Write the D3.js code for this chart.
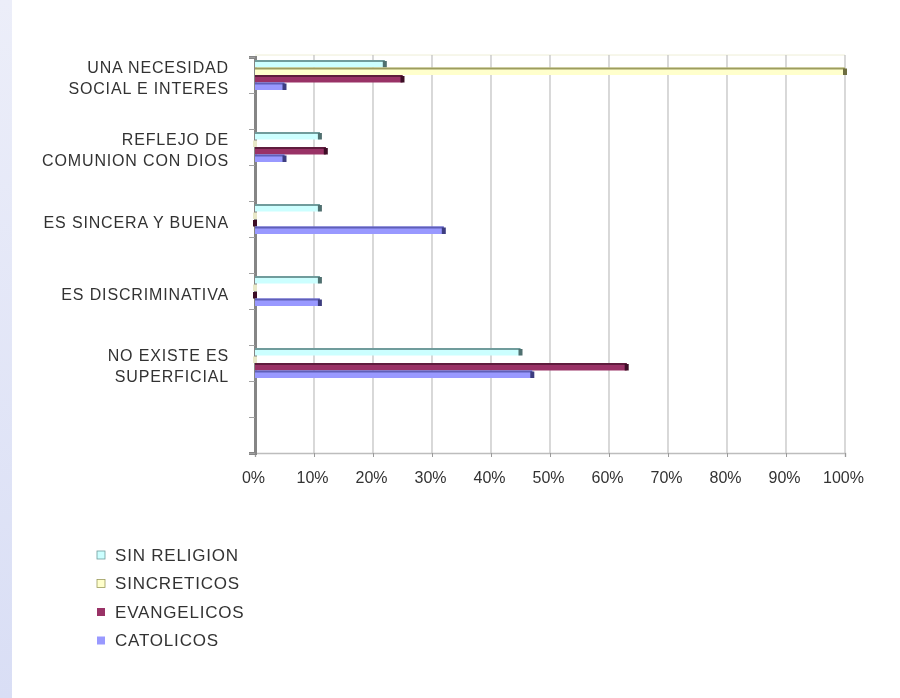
<!DOCTYPE html>
<html>
<head>
<meta charset="utf-8">
<script src="https://cdn.jsdelivr.net/npm/d3@7"></script>
<style>
  html, body { margin: 0; padding: 0; background: #ffffff; }
  svg { display: block; }
  text { font-family: "Liberation Sans", Arial, sans-serif; fill: #333; }
</style>
</head>
<body>
<svg id="chart" width="900" height="698"></svg>
<script>
// ---------- data ----------
const categories = [
  ["UNA NECESIDAD", "SOCIAL E INTERES"],
  ["REFLEJO DE", "COMUNION CON DIOS"],
  ["ES SINCERA Y BUENA"],
  ["ES DISCRIMINATIVA"],
  ["NO EXISTE ES", "SUPERFICIAL"]
];
const seriesNames = ["SIN RELIGION", "SINCRETICOS", "EVANGELICOS", "CATOLICOS"];
const sinReligion = [22, 11, 11, 11, 45];
const sincreticos = [100, 0, 0, 0, 0];
const evangelicos = [25, 12, 0, 0, 63];
const catolicos   = [5, 5, 32, 11, 47];
const xTickValues = [0, 10, 20, 30, 40, 50, 60, 70, 80, 90, 100];

// ---------- styles ----------
const fills  = ["#ccffff", "#ffffcc", "#993366", "#9999ff"];
const tops   = ["#6f9c9c", "#9c9c5e", "#5e1a3c", "#5f5fb8"];
const caps   = ["#4f6f6f", "#6e6e40", "#3d1026", "#3e3e80"];

const seriesValues = [sinReligion, sincreticos, evangelicos, catolicos];

const svg = d3.select("#chart");
const defs = svg.append("defs");
const lg = defs.append("linearGradient").attr("id", "strip").attr("x1", 0).attr("y1", 0).attr("x2", 0).attr("y2", 1);
lg.append("stop").attr("offset", "0%").attr("stop-color", "#eceef9");
lg.append("stop").attr("offset", "100%").attr("stop-color", "#d9def5");
defs.append("filter").attr("id", "soft").append("feGaussianBlur").attr("stdDeviation", 0.45);

// left lavender strip
svg.append("rect").attr("x", 0).attr("y", 0).attr("width", 12).attr("height", 698).attr("fill", "url(#strip)");

const root = svg.append("g").attr("filter", "url(#soft)");

// ---------- scales ----------
const plotTop = 57, plotBottom = 453;
const x = d3.scaleLinear().domain([0, 100]).range([255, 845]);
const slots = d3.range(11);
const y = d3.scaleBand().domain(slots).range([plotTop, plotBottom]).padding(0);
const slotOf = i => 2 * i;
const ySub = d3.scaleBand().domain(seriesNames).range([0, y.bandwidth()]).paddingInner(0).paddingOuter(0.4);

// plot frame top line (faint)
root.append("line").attr("x1", x(0)).attr("x2", x(100)).attr("y1", plotTop - 2).attr("y2", plotTop - 2)
  .attr("stroke", "#eeeed6").attr("stroke-width", 1);

// gridlines
root.append("g").selectAll("line").data(xTickValues.slice(1)).join("line")
  .attr("x1", d => x(d)).attr("x2", d => x(d))
  .attr("y1", plotTop - 2).attr("y2", plotBottom)
  .attr("stroke", "#c4c4c4").attr("stroke-width", 1.3);

// x axis
const xAxis = d3.axisBottom(x).tickValues(xTickValues).tickFormat(d => d + "%").tickSize(4).tickPadding(15);
const gx = root.append("g").attr("transform", `translate(0,${plotBottom})`).call(xAxis);
gx.select(".domain").attr("stroke", "#bdbdbd").attr("stroke-width", 1.5);
gx.selectAll(".tick line").attr("stroke", "#9a9a9a");
gx.selectAll(".tick text").attr("font-size", 16).attr("fill", "#3a3a3a")
  .attr("transform", "translate(-2,0)")
  .style("font-family", "'Liberation Sans', Arial, sans-serif");

// y axis (ticks at slot boundaries)
const yAxisScale = d3.scaleLinear().domain([0, 11]).range([plotTop, plotBottom]);
const gy = root.append("g").attr("transform", `translate(${x(0)},0)`)
  .call(d3.axisLeft(yAxisScale).tickValues(d3.range(0, 12)).tickFormat("").tickSize(6));
gy.select(".domain").attr("stroke", "#858585").attr("stroke-width", 3);
gy.selectAll(".tick line").attr("stroke", "#a0a0a0");

// category labels
const labG = root.append("g");
categories.forEach((lines, i) => {
  const cy = y(slotOf(i)) + y.bandwidth() / 2 + 3;
  const lh = 21;
  const t = labG.append("text").attr("text-anchor", "end").attr("font-size", 16)
    .attr("letter-spacing", "0.85px").attr("fill", "#333");
  lines.forEach((ln, j) => {
    t.append("tspan").attr("x", 229)
      .attr("y", cy + (j - (lines.length - 1) / 2) * lh)
      .attr("dy", "0.35em").text(ln);
  });
});

// bars
const barG = root.append("g");
seriesNames.forEach((name, s) => {
  const vals = seriesValues[s];
  const g = barG.append("g");
  const data = vals.map((v, i) => ({ v, i }));
  const by = d => y(slotOf(d.i)) + ySub(name);
  const bh = ySub.bandwidth();
  g.selectAll("rect.body").data(data).join("rect").attr("class", "body")
    .attr("x", x(0)).attr("y", by)
    .attr("width", d => x(d.v) - x(0)).attr("height", bh)
    .attr("fill", fills[s]);
  g.selectAll("rect.top").data(data).join("rect").attr("class", "top")
    .attr("x", x(0)).attr("y", by)
    .attr("width", d => x(d.v) - x(0)).attr("height", 2)
    .attr("fill", tops[s]);
  g.selectAll("rect.cap").data(data).join("rect").attr("class", "cap")
    .attr("x", d => x(d.v) - 2).attr("y", d => by(d) + 1)
    .attr("width", 4).attr("height", bh - 1)
    .attr("fill", d => (d.v === 0 && s === 1) ? "#e8e8c8" : caps[s]);
});

// legend
const leg = root.append("g");
seriesNames.forEach((name, s) => {
  const cy = 555 + s * 28.5;
  leg.append("rect").attr("x", 97).attr("y", cy - 4).attr("width", 8).attr("height", 8)
    .attr("fill", fills[s]).attr("stroke", s < 2 ? tops[s] : "none").attr("stroke-width", 0.8);
  leg.append("text").attr("x", 115).attr("y", cy).attr("dy", "0.35em")
    .attr("font-size", 17).attr("letter-spacing", "0.8px").attr("fill", "#333").text(name);
});
</script>
</body>
</html>
